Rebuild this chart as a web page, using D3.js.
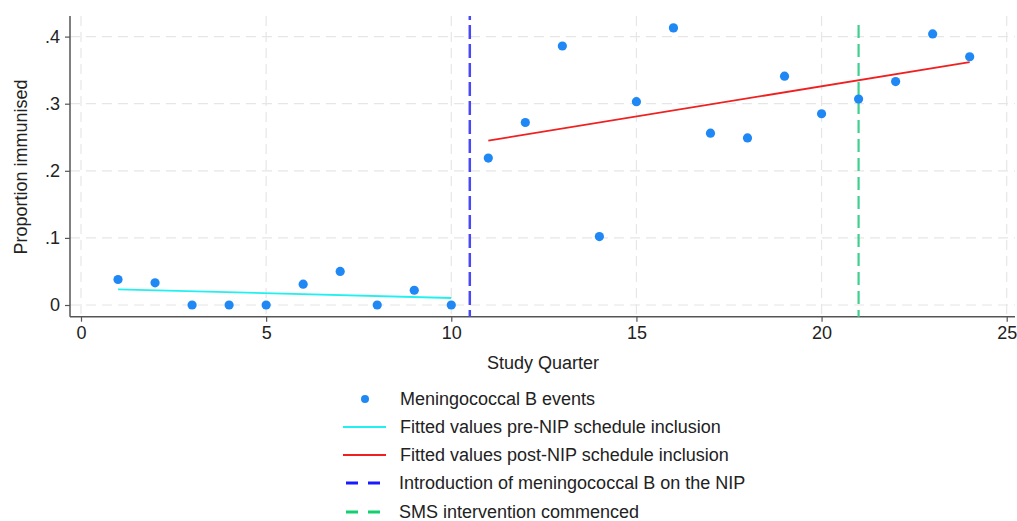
<!DOCTYPE html>
<html><head><meta charset="utf-8">
<script src="https://cdn.jsdelivr.net/npm/d3@7"></script>
<style>body{margin:0;background:#fff}svg{display:block}text{font-family:"Liberation Sans",Arial,sans-serif}</style>
</head><body><svg id="c" width="1017" height="521"></svg>
<script>
const quarters = [1,2,3,4,5,6,7,8,9,10,11,12,13,14,15,16,17,18,19,20,21,22,23,24];
const proportions = [0.038,0.033,0,0,0,0.031,0.050,0,0.022,0,0.219,0.272,0.386,0.102,0.303,0.413,0.256,0.249,0.341,0.285,0.307,0.333,0.404,0.370];
const preFitX = [1,10];
const preFitY = [0.0234,0.0104];
const postFitX = [11,24];
const postFitY = [0.245,0.362];
const nipIntro = 10.5;
const smsStart = 21;
const xTicks = [0,5,10,15,20,25];
const yTicks = [0,0.1,0.2,0.3,0.4];
const yTickLabels = ["0",".1",".2",".3",".4"];
const legendLabels = ["Meningococcal B events","Fitted values pre-NIP schedule inclusion","Fitted values post-NIP schedule inclusion","Introduction of meningococcal B on the NIP","SMS intervention commenced"];

const FS = 18;
const svg = d3.select("#c");
const x = d3.scaleLinear().domain([0,25]).range([81,1006.7]);
const y = d3.scaleLinear().domain([0,0.4]).range([305,36.6]);
const pLeft = 70, pRight = 1015, pTop = 16, pBottom = 316.7;

// grid
const g = svg.append("g");
g.selectAll(".hg").data(yTicks).join("line")
  .attr("x1",pLeft).attr("x2",pRight).attr("y1",d=>y(d)).attr("y2",d=>y(d))
  .attr("stroke","#e6e6e6").attr("stroke-width",1.2).attr("stroke-dasharray","10,6");
g.selectAll(".vg").data(xTicks).join("line")
  .attr("x1",d=>x(d)).attr("x2",d=>x(d)).attr("y1",pTop).attr("y2",pBottom)
  .attr("stroke","#e6e6e6").attr("stroke-width",1.2).attr("stroke-dasharray","10,6");

// axes
const xAxis = d3.axisBottom(x).tickValues(xTicks).tickSize(5).tickPadding(5).tickFormat(d3.format("d"));
const xa = svg.append("g").attr("transform",`translate(0,${pBottom})`).call(xAxis);
xa.select(".domain").attr("d",`M${pLeft},0H${pRight}`);
const yAxis = d3.axisLeft(y).tickValues(yTicks).tickSize(5).tickPadding(5).tickFormat((d,i)=>yTickLabels[i]);
const ya = svg.append("g").attr("transform",`translate(${pLeft},0)`).call(yAxis);
ya.select(".domain").attr("d",`M0,${pTop}V${pBottom}`);
[xa,ya].forEach(a=>{
  a.selectAll(".domain").attr("stroke","#555").attr("stroke-width",1.5);
  a.selectAll(".tick line").attr("stroke","#555").attr("stroke-width",1.2);
  a.selectAll("text").attr("font-size",FS).attr("fill","#222").style("font-family","Liberation Sans, Arial, sans-serif");
});
xa.selectAll(".tick text").attr("dy","0.71em");

svg.append("text").attr("x",543).attr("y",369).attr("text-anchor","middle").attr("font-size",FS).attr("fill","#222").text("Study Quarter");
svg.append("text").attr("transform","translate(27,167) rotate(-90)").attr("text-anchor","middle").attr("font-size",FS).attr("fill","#222").text("Proportion immunised");

// vertical reference lines
svg.append("line").attr("x1",x(nipIntro)).attr("x2",x(nipIntro)).attr("y1",pTop).attr("y2",pBottom)
  .attr("stroke","#4848f8").attr("stroke-width",2.5).attr("stroke-dasharray","14,5").attr("stroke-dashoffset",10);
svg.append("line").attr("x1",x(smsStart)).attr("x2",x(smsStart)).attr("y1",25).attr("y2",pBottom)
  .attr("stroke","#3fcf8e").attr("stroke-width",2.2).attr("stroke-dasharray","13,6");

// fitted lines
const line = d3.line().x(d=>x(d[0])).y(d=>y(d[1]));
svg.append("path").attr("d",line(d3.zip(preFitX,preFitY))).attr("stroke","#22f0f0").attr("stroke-width",1.8).attr("fill","none");
svg.append("path").attr("d",line(d3.zip(postFitX,postFitY))).attr("stroke","#f02020").attr("stroke-width",1.8).attr("fill","none");

// points
svg.selectAll(".pt").data(d3.zip(quarters,proportions)).join("circle")
  .attr("cx",d=>x(d[0])).attr("cy",d=>y(d[1])).attr("r",4.6).attr("fill","#1f88f4");

// legend
const ly = [399,427,455,483,512];
const lg = svg.append("g");
lg.append("circle").attr("cx",365).attr("cy",ly[0]).attr("r",4).attr("fill","#1f88f4");
lg.append("line").attr("x1",343).attr("x2",386).attr("y1",ly[1]).attr("y2",ly[1]).attr("stroke","#22f0f0").attr("stroke-width",1.8);
lg.append("line").attr("x1",343).attr("x2",386).attr("y1",ly[2]).attr("y2",ly[2]).attr("stroke","#f02020").attr("stroke-width",1.8);
lg.append("line").attr("x1",346).attr("x2",380).attr("y1",ly[3]).attr("y2",ly[3]).attr("stroke","#1a1aff").attr("stroke-width",3).attr("stroke-dasharray","12,10");
lg.append("line").attr("x1",346).attr("x2",380).attr("y1",ly[4]).attr("y2",ly[4]).attr("stroke","#10d070").attr("stroke-width",3).attr("stroke-dasharray","12,10");
lg.selectAll(".lt").data(legendLabels).join("text")
  .attr("x",(d,i)=>i<3?400:399).attr("y",(d,i)=>ly[i]).attr("dy","0.35em")
  .attr("font-size",FS).attr("fill","#222").text(d=>d);
</script></body></html>
